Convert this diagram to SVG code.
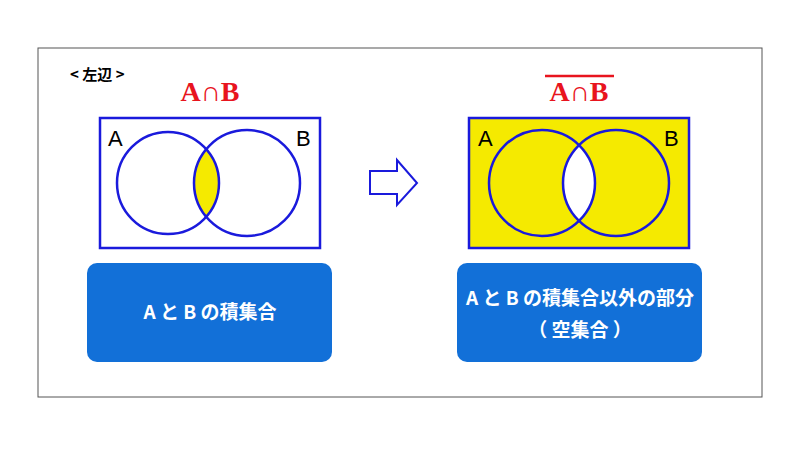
<svg xmlns="http://www.w3.org/2000/svg" width="800" height="450" viewBox="0 0 800 450">
<style>
.c{fill:none;stroke:#1a1adc;stroke-width:2.5}
.r{stroke:#1a1adc;stroke-width:2.5}
.lab{font-family:"Liberation Sans",Arial,sans-serif;font-size:22px;fill:#000}
.t{font-family:"Liberation Serif",serif;font-weight:bold;font-size:28px;fill:#e8141e}
.bt{font-family:"Noto Sans CJK JP","Noto Sans",sans-serif;font-weight:bold;font-size:19px;fill:#fff;text-anchor:middle}
.box{fill:#1270d8}
</style>
<defs>
<clipPath id="cl"><circle cx="168" cy="183" r="51"/></clipPath>
<mask id="m"><rect x="469" y="118" width="220" height="130" fill="#fff"/>
<circle cx="542" cy="183" r="53" fill="#000" clip-path="url(#cr)"/></mask>
<clipPath id="cr"><circle cx="616" cy="183" r="53"/></clipPath>
</defs>
<rect x="38" y="48" width="724" height="349" fill="#fff" stroke="#555" stroke-width="1"/>
<text x="70" y="80" font-family="Noto Sans CJK JP,sans-serif" font-size="15" font-weight="bold">&lt; 左辺 &gt;</text>
<g id="left">
<text class="t" x="210" y="101" text-anchor="middle">A∩B</text>
<rect x="100" y="118" width="220" height="130" fill="#fff" class="r"/>
<circle cx="247" cy="183" r="53" fill="#f5ea00" clip-path="url(#cl)"/>
<circle class="c" cx="168" cy="183" r="51"/>
<circle class="c" cx="247" cy="183" r="53"/>
<text class="lab" x="108" y="146">A</text>
<text class="lab" x="296" y="146">B</text>
</g>
<g id="right">
<text class="t" x="579" y="101" text-anchor="middle">A∩B</text>
<line x1="545" y1="76" x2="614" y2="76" stroke="#e8141e" stroke-width="2.5"/>
<rect x="469" y="118" width="220" height="130" fill="#f5ea00" mask="url(#m)"/>
<rect x="469" y="118" width="220" height="130" fill="none" class="r"/>
<circle class="c" cx="542" cy="183" r="53"/>
<circle class="c" cx="616" cy="183" r="53"/>
<text class="lab" x="478" y="146">A</text>
<text class="lab" x="664" y="146">B</text>
</g>
<g id="arrow">
<polygon points="370,171 397,171 397,160 417,183 397,205 397,194 370,194" fill="#fff" stroke="#1a1adc" stroke-width="2"/>
</g>
<g id="box1">
<rect class="box" x="87" y="263" width="245" height="99" rx="10"/>
<text class="bt" x="210" y="319">A と B の積集合</text>
</g>
<g id="box2">
<rect class="box" x="457" y="263" width="245" height="99" rx="10"/>
<text class="bt" x="580" y="305">A と B の積集合以外の部分</text>
<text class="bt" x="580" y="337">（ 空集合 ）</text>
</g>
</svg>
